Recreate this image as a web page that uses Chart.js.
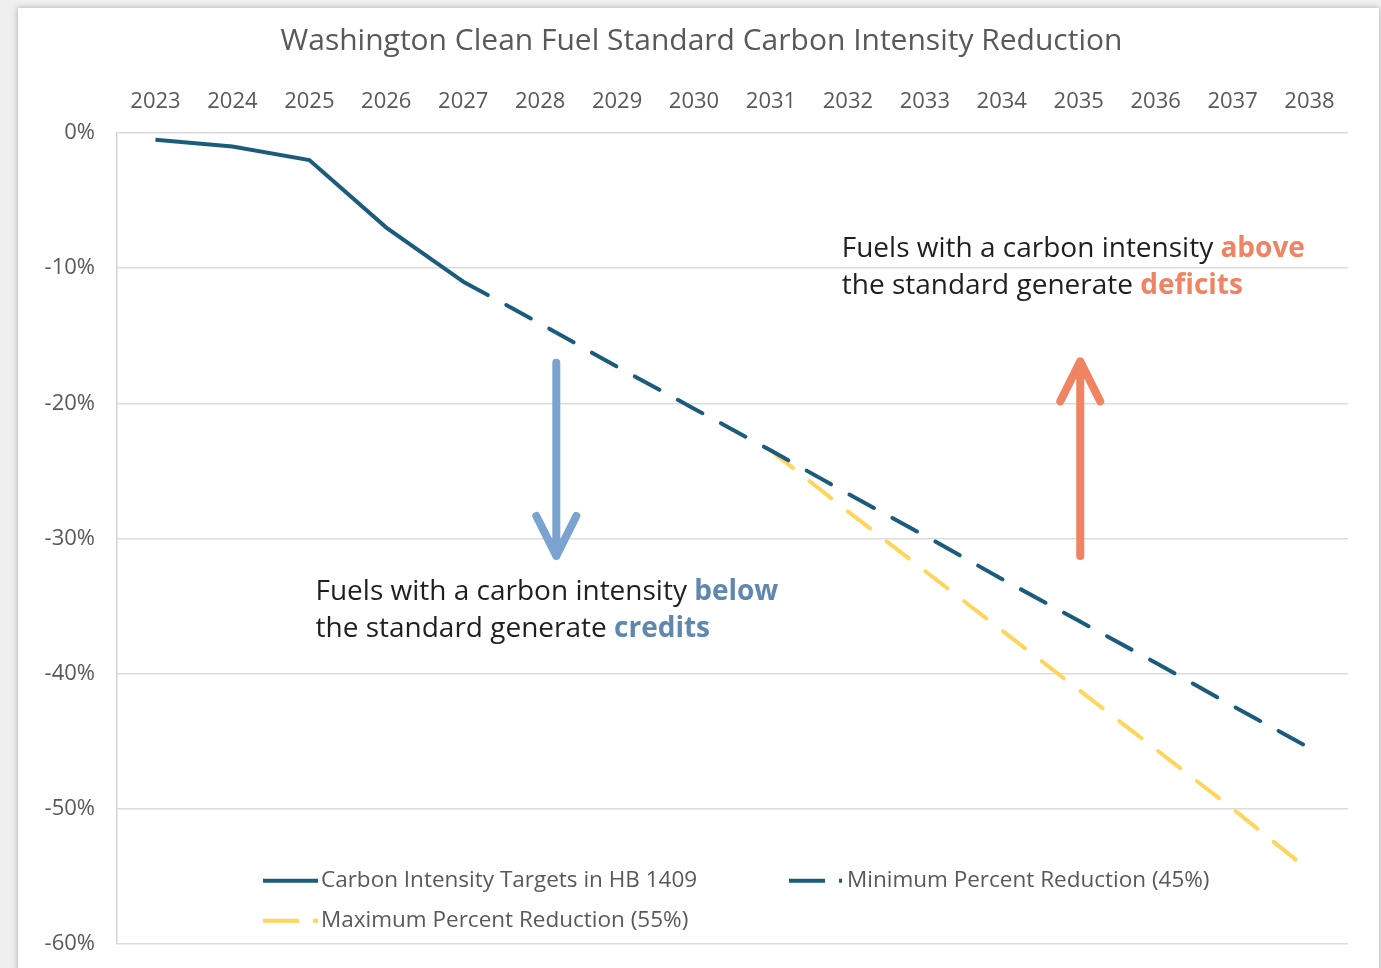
<!DOCTYPE html>
<html>
<head>
<meta charset="utf-8">
<title>Washington Clean Fuel Standard Carbon Intensity Reduction</title>
<script src="https://cdn.jsdelivr.net/npm/chart.js@4.4.1/dist/chart.umd.min.js"></script>
<style>
    body { margin: 0; background: #efefef; width: 1381px; height: 968px; overflow: hidden; }
    #card { position: absolute; left: 18px; top: 8px; width: 1361px; height: 971px; background: #fff; box-shadow: 0 0 6px rgba(0, 0, 0, 0.3); }
    canvas { display: block; }
</style>
</head>
<body>
<div id="card"><canvas id="ciChart" width="1361" height="971"></canvas></div>
<script>
// Datos
const years = ['2023', '2024', '2025', '2026', '2027', '2028', '2029', '2030',
               '2031', '2032', '2033', '2034', '2035', '2036', '2037', '2038'];

const hb1409Targets = [-0.5, -1, -2, -7, -11, null, null, null,
                       null, null, null, null, null, null, null, null];

const minReduction = [null, null, null, null, -11, -14.1, -17.3, -20.4,
                      -23.5, -26.7, -29.8, -33.0, -36.1, -39.2, -42.4, -45.5];

const maxReduction = [null, null, null, null, null, null, null, null,
                      -23.5, -28.0, -32.4, -36.8, -41.2, -45.6, -50.0, -54.6];

const yMin = -60;
const yMax = 0;
const yStep = 10;

const chartTitle = 'Washington Clean Fuel Standard Carbon Intensity Reduction';
const legendLabels = ['Carbon Intensity Targets in HB 1409', 'Minimum Percent Reduction (45%)', 'Maximum Percent Reduction (55%)'];

// Anotaciones (x = índice de categoría, y = porcentaje)
const notes = [
    { x: 2.08, y: -34.0, line1: 'Fuels with a carbon intensity ', word1: 'below', line2: 'the standard generate ', word2: 'credits', accent: '#5f87b0' },
    { x: 8.92, y: -8.6, line1: 'Fuels with a carbon intensity ', word1: 'above', line2: 'the standard generate ', word2: 'deficits', accent: '#f08462' }
];

const arrows = [
    { x: 5.21, from: -17.0, to: -31.3, color: '#7ba3cf' },
    { x: 12.02, from: -31.3, to: -16.9, color: '#f08462' }
];

const DARK = '#1b5c7d';
const YELLOW = '#ffd55c';
const GREY_TEXT = '#595959';
const FONT = "'Open Sans', 'Noto Sans', sans-serif";

// Dibujar título, flechas, textos y leyenda
const overlayPlugin = {
    id: 'overlay',
    beforeDraw(chart) {
        const { ctx, width } = chart;
        ctx.save();
        ctx.font = '30px ' + FONT;
        ctx.fillStyle = GREY_TEXT;
        ctx.textAlign = 'center';
        ctx.textBaseline = 'middle';
        ctx.fillText(chartTitle, width / 2 + 3, 33);
        ctx.restore();
    },
    afterDatasetsDraw(chart) {
        const { ctx, chartArea, scales } = chart;
        const xs = scales.x, ys = scales.y;

        // Flechas
        arrows.forEach(a => {
            const px = xs.getPixelForValue(a.x);
            const y0 = ys.getPixelForValue(a.from);
            const y1 = ys.getPixelForValue(a.to);
            const dir = y1 > y0 ? 1 : -1;
            ctx.save();
            ctx.strokeStyle = a.color;
            ctx.lineWidth = 8;
            ctx.lineCap = 'round';
            ctx.lineJoin = 'round';
            ctx.beginPath();
            ctx.moveTo(px, y0);
            ctx.lineTo(px, y1);
            ctx.moveTo(px - 20, y1 - dir * 40);
            ctx.lineTo(px, y1);
            ctx.lineTo(px + 20, y1 - dir * 40);
            ctx.stroke();
            ctx.restore();
        });

        // Textos
        notes.forEach(n => {
            const px = xs.getPixelForValue(n.x);
            const py = ys.getPixelForValue(n.y);
            ctx.save();
            ctx.textBaseline = 'middle';
            ctx.textAlign = 'left';
            [[n.line1, n.word1, 0], [n.line2, n.word2, 37]].forEach(([txt, word, dy]) => {
                ctx.font = '28px ' + FONT;
                ctx.fillStyle = '#1f1f1f';
                ctx.fillText(txt, px, py + dy);
                const w = ctx.measureText(txt).width;
                ctx.font = 'bold 28px ' + FONT;
                ctx.fillStyle = n.accent;
                ctx.fillText(word, px + w, py + dy);
            });
            ctx.restore();
        });

        // Leyenda
        const items = [
            { label: legendLabels[0], color: DARK, dash: [], x: 146, y: -63, len: 55 },
            { label: legendLabels[1], color: DARK, dash: [36, 14], x: 672, y: -63, len: 53 },
            { label: legendLabels[2], color: YELLOW, dash: [36, 14], x: 146, y: -23, len: 55 }
        ];
        ctx.save();
        items.forEach(it => {
            const lx = chartArea.left + it.x;
            const ly = chartArea.bottom + it.y;
            ctx.strokeStyle = it.color;
            ctx.lineWidth = 4;
            ctx.lineCap = 'butt';
            ctx.setLineDash(it.dash);
            ctx.beginPath();
            ctx.moveTo(lx, ly);
            ctx.lineTo(lx + it.len, ly);
            ctx.stroke();
            ctx.setLineDash([]);
            ctx.font = '22.5px ' + FONT;
            ctx.fillStyle = GREY_TEXT;
            ctx.textBaseline = 'middle';
            ctx.fillText(it.label, lx + 58, ly);
        });
        ctx.restore();
    }
};

const ctx = document.getElementById('ciChart').getContext('2d');

new Chart(ctx, {
    type: 'line',
    data: {
        labels: years,
        datasets: [
            {
                label: legendLabels[0],
                data: hb1409Targets,
                borderColor: DARK,
                borderWidth: 4,
                pointRadius: 0,
                tension: 0,
                fill: false
            },
            {
                label: legendLabels[1],
                data: minReduction,
                borderColor: DARK,
                borderWidth: 4,
                borderDash: [28, 21],
                borderCapStyle: 'round',
                pointRadius: 0,
                fill: false
            },
            {
                label: legendLabels[2],
                data: maxReduction,
                borderColor: YELLOW,
                borderWidth: 4,
                borderDash: [28, 21],
                borderCapStyle: 'round',
                pointRadius: 0,
                fill: false
            }
        ]
    },
    options: {
        responsive: false,
        animation: false,
        layout: { padding: { left: 0, right: 31, top: 56, bottom: 0 } },
        plugins: {
            legend: { display: false },
            tooltip: { enabled: false },
            title: { display: false }
        },
        scales: {
            x: {
                position: 'top',
                offset: true,
                grid: { display: false, drawTicks: false },
                border: { display: false },
                ticks: {
                    color: GREY_TEXT,
                    font: { family: FONT, size: 22 },
                    padding: 18,
                    maxRotation: 0,
                    autoSkip: false
                },
                afterFit(scale) { scale.height = 125 - 56; }
            },
            y: {
                min: yMin,
                max: yMax,
                grid: { color: '#dcdcdc', lineWidth: 1.5, drawTicks: false },
                border: { display: true, color: '#d4d4d4', width: 1.5 },
                ticks: {
                    stepSize: yStep,
                    color: GREY_TEXT,
                    font: { family: FONT, size: 22 },
                    padding: 22,
                    callback: v => v + '%'
                },
                afterFit(scale) { scale.width = 99; }
            }
        }
    },
    plugins: [overlayPlugin]
});
</script>
</body>
</html>
